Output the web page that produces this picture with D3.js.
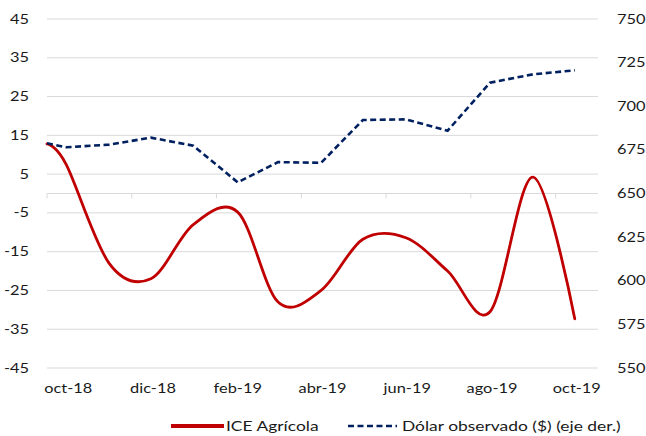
<!DOCTYPE html>
<html>
<head>
<meta charset="utf-8">
<script src="https://cdn.jsdelivr.net/npm/d3@7"></script>
<style>
  body { margin: 0; background: #fff; }
  text { font-family: Lato, "Open Sans", sans-serif; fill: #1a1a1a; }
</style>
</head>
<body>
<div class="chart"></div>
<script>

// monthly series (first point is the start of oct-18, the rest mid-month)
const fechas = ["2018-10-01","2018-10-15","2018-11-15","2018-12-15","2019-01-15","2019-02-15",
  "2019-03-15","2019-04-15","2019-05-15","2019-06-15","2019-07-15","2019-08-15","2019-09-15","2019-10-15"];

const iceAgricola = [12.8, 7.5, -18, -22, -8, -4.8, -28, -25, -11.8, -11.4, -20, -30.5, 4.2, -32.3];

const dolarObservado = [678.8, 676.5, 678.0, 682.0, 677.4, 656.4, 668.0, 667.6, 692.1, 692.5, 686.0, 713.5, 718.3, 720.6];

const xLabels = ["oct-18","dic-18","feb-19","abr-19","jun-19","ago-19","oct-19"];
const xLabelMonths = ["2018-10-01","2018-12-01","2019-02-01","2019-04-01","2019-06-01","2019-08-01","2019-10-01"];

const leftTicks = [-45, -35, -25, -15, -5, 5, 15, 25, 35, 45];
const rightTicks = [550, 575, 600, 625, 650, 675, 700, 725, 750];

const seriesNames = ["ICE Agrícola", "Dólar observado ($) (eje der.)"];


const W = 646, H = 436;
const sx = 1.3; // the picture is stretched sideways, so is the text
const parse = d3.timeParse("%Y-%m-%d");
const start = parse("2018-10-01");

// date -> months since oct-18 (fractional)
function monthIndex(d){
  const m0 = d3.timeMonth.floor(d);
  const m1 = d3.timeMonth.offset(m0, 1);
  return d3.timeMonth.count(start, m0) + (d - m0) / (m1 - m0);
}

const x = d3.scaleLinear().domain([0, 13]).range([47, 598]);
const yL = d3.scaleLinear().domain([-45, 45]).range([368, 19]);
const yR = d3.scaleLinear().domain([550, 750]).range([368, 19]);

let svg = d3.select('.chart')
  .append('svg')
  .attr('width', W)
  .attr('height', H)
  ;

function label(g, px, py, txt, anchor, size, stretch){
  return g.append('text')
    .attr('transform', `translate(${px},${py}) scale(${stretch || sx},1)`)
    .attr('text-anchor', anchor)
    .attr('font-size', size || 12.6)
    .text(txt)
    ;
}

// gridlines
svg.append('g')
  .selectAll('line')
  .data(leftTicks)
  .enter()
    .append('line')
    .attr('x1', x(0))
    .attr('x2', x(13))
    .attr('y1', d => yL(d))
    .attr('y2', d => yL(d))
    .attr('stroke', '#d9d9d9')
    .attr('stroke-width', 1)
    ;

// category axis at zero
svg.append('line')
  .attr('x1', x(0))
  .attr('x2', x(13))
  .attr('y1', yL(0))
  .attr('y2', yL(0))
  .attr('stroke', '#d9d9d9')
  ;

svg.append('g')
  .selectAll('line')
  .data(xLabelMonths)
  .enter()
    .append('line')
    .attr('x1', d => x(monthIndex(parse(d))))
    .attr('x2', d => x(monthIndex(parse(d))))
    .attr('y1', yL(0))
    .attr('y2', yL(0) + 5)
    .attr('stroke', '#d9d9d9')
    ;

// axis labels
let labels = svg.append('g');
leftTicks.forEach(t => label(labels, 29, yL(t) + 4.5, t, 'end'));
rightTicks.forEach(t => label(labels, 617, yR(t) + 4.5, t, 'start'));
xLabels.forEach((t, i) => label(labels, x(monthIndex(parse(xLabelMonths[i])) + 0.5), 392.5, t, 'middle'));

const pts = fechas.map((f, i) => ({
  m: monthIndex(parse(f)),
  ice: iceAgricola[i],
  usd: dolarObservado[i]
}));

// ICE Agricola, smoothed
svg.append('path')
  .datum(pts)
  .attr('fill', 'none')
  .attr('stroke', '#c00000')
  .attr('stroke-width', 2.8)
  .attr('stroke-linejoin', 'round')
  .attr('stroke-linecap', 'round')
  .attr('d', d3.line()
    .x(d => x(d.m))
    .y(d => yL(d.ice))
    .curve(d3.curveCatmullRom.alpha(0)))
  ;

// Dolar observado, right axis
svg.append('path')
  .datum(pts)
  .attr('fill', 'none')
  .attr('stroke', '#002060')
  .attr('stroke-width', 2.6)
  .attr('stroke-dasharray', '6,3.5')
  .attr('d', d3.line()
    .x(d => x(d.m))
    .y(d => yR(d.usd)))
  ;

// legend
let legend = svg.append('g');
legend.append('line')
  .attr('x1', 171).attr('x2', 224)
  .attr('y1', 426).attr('y2', 426)
  .attr('stroke', '#c00000')
  .attr('stroke-width', 4)
  ;
label(legend, 226, 430.5, seriesNames[0], 'start', 13.2, 1.32);

legend.append('line')
  .attr('x1', 348).attr('x2', 397)
  .attr('y1', 426).attr('y2', 426)
  .attr('stroke', '#002060')
  .attr('stroke-width', 2.6)
  .attr('stroke-dasharray', '6,3.5')
  ;
label(legend, 402, 430.5, seriesNames[1], 'start', 13.2, 1.32);

</script>
</body>
</html>
